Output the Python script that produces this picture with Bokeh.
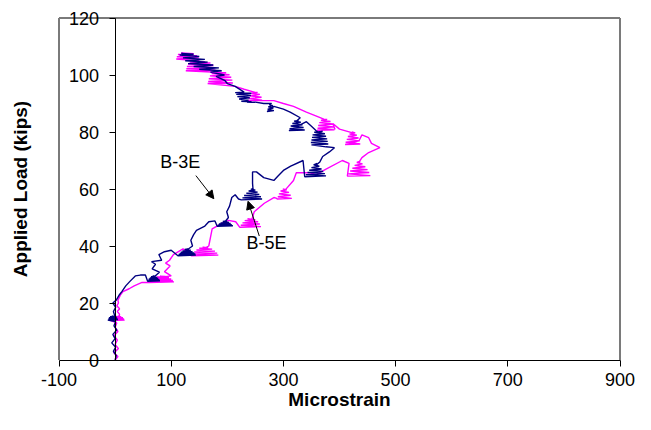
from bokeh.plotting import figure
from bokeh.models import (LinearAxis, FixedTicker, Arrow, NormalHead, Label,
                          Range1d, PrintfTickFormatter)
from bokeh.embed import file_html
from bokeh.resources import INLINE

# ---------------- data ----------------
x_ticks = [-100, 100, 300, 500, 700, 900]
y_ticks = [0, 20, 40, 60, 80, 100, 120]
x_limits = [-100, 900]
y_limits = [0, 120]

# B-3E gauge: (microstrain, applied load in kips)
b3e_points = [
    (0, 0), (2, 1.5), (-3, 3), (1, 4.5), (-6, 6), (0, 7.5), (-4, 9), (3, 10.5), (-2, 12), (1, 13.5),
    (-13, 14.0), (5, 14.2), (-12, 14.4), (4, 14.6), (-11, 14.8), (3, 15.0), (-9, 15.2), (1, 15.3), (-6, 15.4), (0, 15.2),
    (-3, 17), (1, 18.5), (-4, 20), (2, 21), (8, 23), (12, 24), (19, 26), (26, 27.5), (36, 29.5), (45, 29.8), (54, 29.8),
    (58, 27.6), (80, 27.8), (59, 28.0), (79, 28.2), (60, 28.4), (77, 28.6), (62, 28.8), (75, 29.0), (64, 29.2), (72, 29.4), (67, 29.5), (70, 29.2),
    (79, 30.8), (66, 32), (72, 33.6), (65, 34.5), (83, 35), (78, 37), (88, 38), (100, 38.5),
    (112, 36.6), (144, 36.8), (113, 37.0), (143, 37.2), (115, 37.4), (141, 37.6), (117, 37.8), (138, 38.0), (120, 38.3), (135, 38.5), (124, 38.8), (130, 39.0), (128, 38.6),
    (138, 40), (135, 42), (140, 44), (145, 45.5), (160, 47), (167, 48.5), (178, 48.8),
    (182, 46.9), (210, 47.1), (183, 47.3), (208, 47.5), (185, 47.7), (206, 47.9), (188, 48.1), (203, 48.3), (192, 48.6), (199, 48.8), (196, 48.5),
    (202, 50), (199, 52), (204, 54), (208, 57), (214, 58), (220, 56.5),
    (225, 56.2), (262, 56.5), (227, 56.9), (260, 57.3), (230, 57.7), (257, 58.1), (234, 58.5), (254, 58.9), (238, 59.3), (250, 59.6), (242, 60.0), (246, 59.5),
    (245, 62), (245, 66), (252, 66), (265, 64), (283, 63), (290, 64.5), (300, 66.5), (313, 68), (335, 70),
    (338, 64.3), (376, 64.6), (340, 65.0), (374, 65.4), (343, 65.8), (371, 66.2), (346, 66.6), (368, 67.0), (350, 67.5), (364, 68.0), (354, 68.5), (360, 69.0), (357, 68.2),
    (365, 69.5), (370, 71.4), (382, 73), (391, 74.5), (376, 74.8),
    (350, 75.5), (380, 75.8), (349, 76.3), (379, 76.7), (350, 77.2), (378, 77.6), (351, 78.1), (376, 78.5), (352, 79.0), (374, 79.4), (355, 79.9), (370, 80.2), (362, 80.0),
    (358, 80.5), (350, 82), (341, 83.6),
    (310, 80.5), (338, 80.7), (311, 81.2), (336, 81.6), (313, 82.1), (334, 82.5), (316, 83.0), (331, 83.4), (319, 83.8), (327, 84.1), (322, 83.6),
    (330, 85), (312, 87), (300, 88), (283, 89),
    (271, 87.2), (283, 87.5), (272, 88.0), (282, 88.4), (273, 88.8), (281, 89.2), (275, 89.6), (279, 90.0),
    (265, 90), (250, 90.5),
    (235, 90.4), (243, 90.6), (225, 90.8), (238, 91.2), (221, 91.6), (240, 92.0), (218, 92.4), (242, 92.8), (216, 93.2), (243, 93.6), (214, 93.8), (230, 94.0),
    (214, 96), (200, 97),
    (196, 98), (180, 99.5), (195, 100), (170, 101), (190, 101.5), (150, 102), (185, 102.5), (140, 103), (175, 103.5), (130, 104),
    (165, 104.5), (125, 105), (160, 105.5), (121, 106), (150, 106.5), (115, 107), (140, 107.3), (118, 107.6), (130, 107.2),
]

# B-5E gauge: (microstrain, applied load in kips)
b5e_points = [
    (0, 0), (5, 1.2), (-2, 2.5), (6, 4), (0, 5.5), (4, 7), (-2, 8.5), (5, 10), (0, 11.5), (3, 13),
    (-8, 13.8), (17, 14.0), (-7, 14.2), (16, 14.4), (-6, 14.6), (14, 14.8), (-4, 15.0), (11, 15.2), (0, 15.3), (6, 15.0),
    (8, 16), (4, 17), (8, 18), (3, 19), (6, 20), (5, 21), (10, 23), (14, 24), (25, 25), (34, 26), (48, 27.2),
    (60, 27.2), (105, 27.4), (62, 27.7), (103, 27.9), (65, 28.2), (100, 28.4), (69, 28.7), (96, 28.9), (74, 29.1), (90, 29.3), (80, 29.4), (86, 29.1),
    (100, 29.5), (88, 31), (98, 33), (90, 34), (97, 35), (104, 37), (121, 39),
    (136, 36.6), (184, 36.8), (138, 37.2), (182, 37.5), (141, 37.9), (178, 38.2), (145, 38.6), (173, 38.9), (150, 39.2), (166, 39.4), (156, 39.6), (161, 39.3),
    (167, 40), (170, 43), (173, 46), (191, 48), (202, 49), (215, 48.5),
    (222, 46.6), (260, 46.8), (224, 47.3), (258, 47.7), (227, 48.1), (255, 48.5), (231, 48.9), (250, 49.2), (236, 49.5), (244, 49.4),
    (248, 52), (266, 55), (283, 57), (287, 56.8),
    (289, 56.5), (315, 56.7), (290, 57.3), (313, 57.8), (292, 58.3), (310, 58.8), (295, 59.3), (306, 59.7), (299, 60.0), (303, 59.6),
    (318, 63), (323, 65.7), (348, 65.7), (358, 65), (376, 67), (405, 70), (417, 69),
    (414, 64.5), (455, 64.7), (416, 65.3), (453, 65.8), (419, 66.3), (450, 66.8), (423, 67.3), (446, 67.8), (427, 68.3), (441, 68.8), (431, 69.3), (437, 69.8), (434, 69.2),
    (440, 71), (452, 72.8), (472, 74.5), (457, 76), (452, 78), (440, 79), (435, 77), (420, 76),
    (410, 75.6), (437, 75.8), (411, 76.4), (436, 76.9), (413, 77.4), (434, 77.9), (415, 78.4), (431, 78.9), (418, 79.3), (428, 79.7), (422, 80.0), (425, 79.6),
    (400, 81), (388, 83), (392, 81),
    (360, 80.6), (391, 80.8), (361, 81.3), (390, 81.8), (362, 82.3), (388, 82.8), (364, 83.3), (384, 83.7), (367, 84.1), (378, 84.4), (372, 84.5),
    (360, 85.5), (341, 87), (318, 89), (300, 90), (283, 91), (265, 91),
    (237, 91.0), (262, 91.2), (238, 91.7), (261, 92.2), (240, 92.7), (258, 93.2), (243, 93.6), (254, 93.9), (248, 94.0),
    (230, 95), (214, 96),
    (165, 97.0), (210, 97.2), (166, 97.7), (209, 98.2), (167, 98.7), (207, 99.2), (169, 99.7), (204, 100.1), (172, 100.5), (198, 100.8), (178, 101.0), (190, 100.9),
    (126, 101.5), (179, 101.7), (127, 102.2), (178, 102.6), (128, 103.0), (175, 103.4), (130, 103.8), (170, 104.2), (133, 104.5), (160, 104.6), (140, 104.4),
    (150, 105), (109, 105.6), (149, 106), (110, 106.4), (146, 106.8), (112, 107.2), (140, 107.5), (118, 107.7), (130, 107.4),
]

series_names = ["B-3E", "B-5E"]
series_colors = ["#000080", "#FF00FF"]
label_x = [116, 270]
label_y = [69.5, 41.1]
arrow_x_start = [144, 257]
arrow_y_start = [64.7, 43.5]
arrow_x_end = [176, 237]
arrow_y_end = [56.6, 55.7]

x_title = "Microstrain"
y_title = "Applied Load (kips)"

FONT = "Liberation Sans"

# canvas layout (frame covers the whole canvas; the chart box is drawn inside)
W, H = 635, 414
box_left_px, box_right_px = 58.5, 619.5
box_top_px, box_bottom_px = 17.5, 359.5
kx = (box_right_px - box_left_px) / (x_limits[1] - x_limits[0])
ky = (box_bottom_px - box_top_px) / (y_limits[1] - y_limits[0])
x_range = Range1d(x_limits[0] - box_left_px / kx,
                  x_limits[1] + (W - box_right_px) / kx)
y_range = Range1d(y_limits[0] - (H - box_bottom_px) / ky,
                  y_limits[1] + box_top_px / ky)

p = figure(width=W, height=H, x_range=x_range, y_range=y_range,
           output_backend="svg", toolbar_location=None,
           x_axis_location=None, y_axis_location=None,
           min_border=0, min_border_left=0, min_border_right=0,
           min_border_top=0, min_border_bottom=0)
p.background_fill_color = "white"
p.border_fill_color = "white"
p.outline_line_color = None
p.grid.visible = False

# gray plot-area box edges (left, top, right)
box_xs = [[x_limits[0], x_limits[0]], [x_limits[0], x_limits[1]], [x_limits[1], x_limits[1]]]
box_ys = [[y_limits[0], y_limits[1]], [y_limits[1], y_limits[1]], [y_limits[1], y_limits[0]]]
p.multi_line(xs=box_xs, ys=box_ys, line_color="#7a7a7a", line_width=2)

# x axis at load = 0
xaxis = LinearAxis(ticker=FixedTicker(ticks=x_ticks), fixed_location=0,
                   bounds=(x_limits[0], x_limits[1]),
                   formatter=PrintfTickFormatter(format="%d"))
xaxis.axis_line_color = "black"
xaxis.major_tick_line_color = "black"
xaxis.major_tick_out = 6
xaxis.major_tick_in = 0
xaxis.minor_tick_line_color = None
xaxis.major_label_text_font = FONT
xaxis.major_label_text_font_size = "18px"
xaxis.major_label_text_color = "black"
xaxis.major_label_standoff = 7
p.add_layout(xaxis, "below")

# y axis at strain = 0
yaxis = LinearAxis(ticker=FixedTicker(ticks=y_ticks), fixed_location=0,
                   bounds=(y_limits[0], y_limits[1]),
                   formatter=PrintfTickFormatter(format="%d"))
yaxis.axis_line_color = "black"
yaxis.major_tick_line_color = "black"
yaxis.major_tick_out = 6
yaxis.major_tick_in = 0
yaxis.minor_tick_line_color = None
yaxis.major_label_text_font = FONT
yaxis.major_label_text_font_size = "18px"
yaxis.major_label_text_color = "black"
yaxis.major_label_standoff = 10
p.add_layout(yaxis, "left")

# axis titles
p.add_layout(Label(x=(x_limits[0] + x_limits[1]) / 2, y=y_range.start,
                   y_offset=15, text=x_title, text_align="center",
                   text_baseline="middle", text_font=FONT,
                   text_font_size="19px", text_font_style="bold",
                   text_color="black"))
p.add_layout(Label(x=x_range.start, x_offset=20,
                   y=(y_limits[0] + y_limits[1]) / 2, text=y_title,
                   angle=90, angle_units="deg", text_align="center",
                   text_baseline="middle", text_font=FONT,
                   text_font_size="19px", text_font_style="bold",
                   text_color="black"))

for pts, color in [(b5e_points, series_colors[1]), (b3e_points, series_colors[0])]:
    xs = [pt[0] for pt in pts]
    ys = [pt[1] for pt in pts]
    p.line(xs, ys, line_color=color, line_width=1.4)

for name, lx, ly, xs0, ys0, xe, ye in zip(series_names, label_x, label_y,
                                          arrow_x_start, arrow_y_start,
                                          arrow_x_end, arrow_y_end):
    p.add_layout(Label(x=lx, y=ly, text=name, text_align="center",
                       text_baseline="middle", text_font=FONT,
                       text_font_size="18px", text_color="black"))
    p.add_layout(Arrow(x_start=xs0, y_start=ys0, x_end=xe, y_end=ye,
                       line_color="black", line_width=1,
                       end=NormalHead(size=8, fill_color="black",
                                      line_color="black")))

open("out.html", "w").write(file_html(p, INLINE))
